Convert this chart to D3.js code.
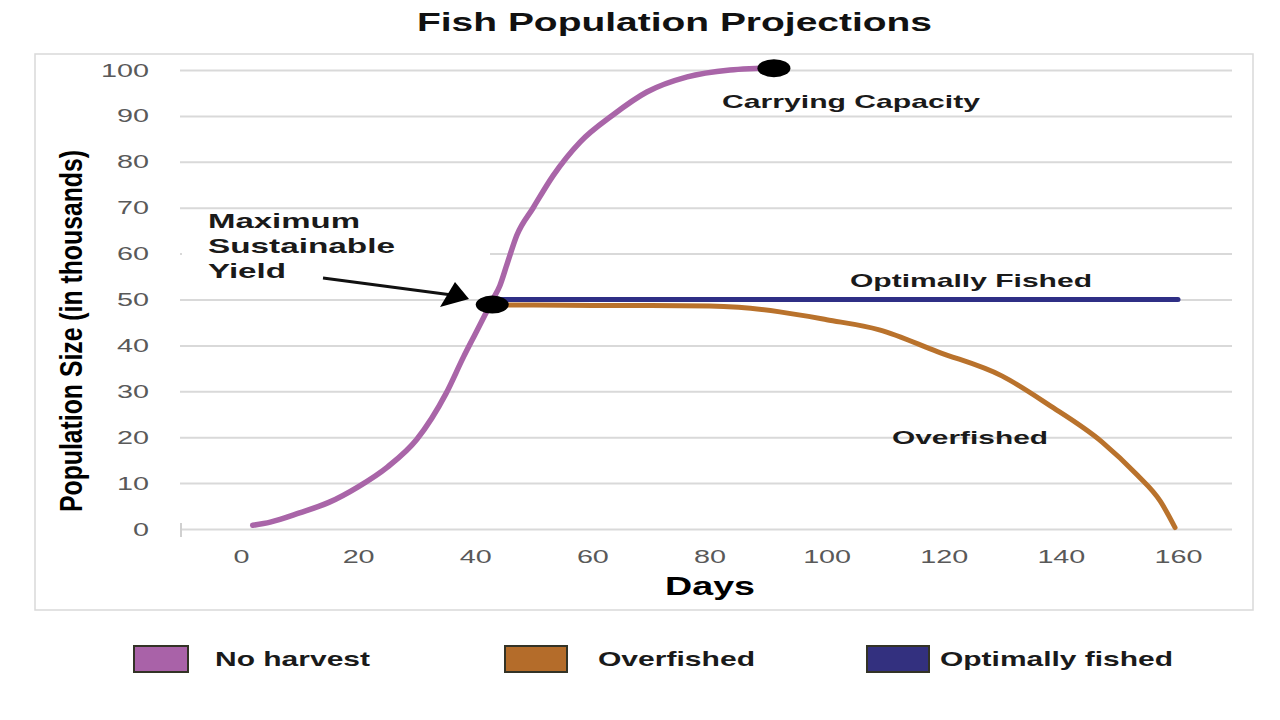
<!DOCTYPE html>
<html><head><meta charset="utf-8">
<script src="https://cdn.jsdelivr.net/npm/d3@7"></script>
<style>
html,body{margin:0;padding:0;background:#fff;}
text{font-family:"Liberation Sans",Arial,sans-serif;}
</style>
</head><body>
<svg id="c" width="1280" height="720"></svg>
<script>
// ---- data ----
const yTicks = [0,10,20,30,40,50,60,70,80,90,100];
const xTicks = [0,20,40,60,80,100,120,140,160];
const noHarvestDays = [2,5,10,15,20,25,30,35,38,40,42,43,44.2,45.5,47.1,49.9,53.3,57.9,63.5,69.3,76.2,83.5,88.6,91];
const noHarvestVals = [0.8,1.5,3.5,5.8,9.2,13.5,19.5,29.5,37.5,42.5,47.5,50,53,58,64,70,77,84.3,90.2,95.2,98.5,100,100.4,100.6];
const overfishedDays = [43,50,60,70,80,85,92,100,109,119,130,138,147,153,157,159.5];
const overfishedVals = [48.8,48.8,48.7,48.7,48.6,48.3,47.3,45.6,43.4,38.6,33.3,27,19,11.8,6,0.3];
const optimalDays = [43,160];
const optimalVals = [50,50];
const seriesNames = ["No harvest","Overfished","Optimally fished"];
const seriesColors = ["#a965a8","#b9722c","#2f2f85"];
const legendFills = ["#a962a8","#b46c2a","#33307f"];
const markerDays = [42.9, 91];
const markerVals = [48.9, 100.4];

const svg = d3.select("#c");
const x = d3.scaleLinear().domain([0,160]).range([241,1178]);
const y = d3.scaleLinear().domain([0,100]).range([529,70]);

// outer border
svg.append("rect").attr("x",35).attr("y",54).attr("width",1218).attr("height",556)
  .attr("fill","none").attr("stroke","#d9d9d9").attr("stroke-width",1.5);

// title
svg.append("text").attr("x",417).attr("y",31).attr("font-size",26).attr("font-weight","bold")
  .attr("textLength",515).attr("lengthAdjust","spacingAndGlyphs").attr("fill","#111")
  .text("Fish Population Projections");

// y axis with gridlines
const ya = svg.append("g").attr("transform","translate(180,0)")
  .call(d3.axisLeft(y).tickValues(yTicks).tickSize(-1052).tickPadding(31));
ya.select(".domain").remove();
ya.selectAll(".tick line").attr("stroke","#d9d9d9").attr("stroke-width",2);
ya.selectAll(".tick text").attr("font-size",19).attr("fill","#595959")
  .attr("font-family","Liberation Sans, Arial, sans-serif")
  .attr("textLength",d=>String(d).length*16).attr("lengthAdjust","spacingAndGlyphs");
// small tick at left end of zero line
svg.append("line").attr("x1",181).attr("x2",181).attr("y1",523).attr("y2",537)
  .attr("stroke","#d0d0d0").attr("stroke-width",2);

// x axis labels
const xa = svg.append("g").attr("transform","translate(0,529)")
  .call(d3.axisBottom(x).tickValues(xTicks).tickSize(0).tickPadding(21));
xa.select(".domain").remove();
xa.selectAll(".tick text").attr("font-size",19).attr("fill","#595959")
  .attr("font-family","Liberation Sans, Arial, sans-serif")
  .attr("textLength",d=>String(d).length*16).attr("lengthAdjust","spacingAndGlyphs");

// white patch behind annotation (hides part of 60 gridline as in reference)
svg.append("rect").attr("x",182).attr("y",250).attr("width",308).attr("height",9).attr("fill","#fff");

// axis titles
svg.append("text").attr("transform","translate(82,331) rotate(-90)").attr("text-anchor","middle")
  .attr("font-size",31).attr("font-weight","bold").attr("fill","#000")
  .attr("font-family","Liberation Sans Narrow, Liberation Sans, Arial, sans-serif")
  .attr("textLength",362).attr("lengthAdjust","spacingAndGlyphs")
  .text("Population Size (in thousands)");
svg.append("text").attr("x",665).attr("y",595).attr("font-size",26).attr("font-weight","bold")
  .attr("textLength",90).attr("lengthAdjust","spacingAndGlyphs").attr("fill","#000").text("Days");

// lines
const line = d3.line().x(d=>x(d[0])).y(d=>y(d[1])).curve(d3.curveMonotoneX);
const zip = (a,b)=>a.map((v,i)=>[v,b[i]]);
svg.append("path").datum(zip(overfishedDays,overfishedVals)).attr("d",line)
  .attr("fill","none").attr("stroke",seriesColors[1]).attr("stroke-width",5).attr("stroke-linecap","round");
svg.append("path").datum(zip(optimalDays,optimalVals)).attr("d",line)
  .attr("fill","none").attr("stroke",seriesColors[2]).attr("stroke-width",5).attr("stroke-linecap","round");
svg.append("path").datum(zip(noHarvestDays,noHarvestVals)).attr("d",line)
  .attr("fill","none").attr("stroke",seriesColors[0]).attr("stroke-width",5.5).attr("stroke-linecap","round");

// markers
svg.selectAll("ellipse.mk").data(zip(markerDays,markerVals)).enter().append("ellipse")
  .attr("cx",d=>x(d[0])).attr("cy",d=>y(d[1])).attr("rx",16.5).attr("ry",9).attr("fill","#000");

// annotations
function label(t,xx,yy,len,size){
  svg.append("text").attr("x",xx).attr("y",yy).attr("font-size",size||20).attr("font-weight","bold")
    .attr("fill","#1a1a1a").attr("textLength",len).attr("lengthAdjust","spacingAndGlyphs").text(t);
}
label("Carrying Capacity",722,108,258,19);
label("Optimally Fished",850,287,242,19);
label("Overfished",892,444,156,19);
label("Maximum",208,228,152,21);
label("Sustainable",208,253,187,21);
label("Yield",208,278,78,21);

// arrow
svg.append("line").attr("x1",323).attr("y1",278).attr("x2",452).attr("y2",295)
  .attr("stroke","#111").attr("stroke-width",3);
svg.append("path").attr("d","M455,282 L469,299 L440,307 Z").attr("fill","#000");

// legend
const legX = [134,505,867];
const legTextX = [215,598,940];
const legLen = [155,157,233];
const lg = svg.append("g");
seriesNames.forEach((n,i)=>{
  lg.append("rect").attr("x",legX[i]).attr("y",646).attr("width",i===0?54:62).attr("height",26)
    .attr("fill",legendFills[i]).attr("stroke","#333326").attr("stroke-width",2);
  lg.append("text").attr("x",legTextX[i]).attr("y",666).attr("font-size",21).attr("font-weight","bold")
    .attr("fill","#1a1a1a").attr("textLength",legLen[i]).attr("lengthAdjust","spacingAndGlyphs").text(n);
});
</script>
</body></html>
